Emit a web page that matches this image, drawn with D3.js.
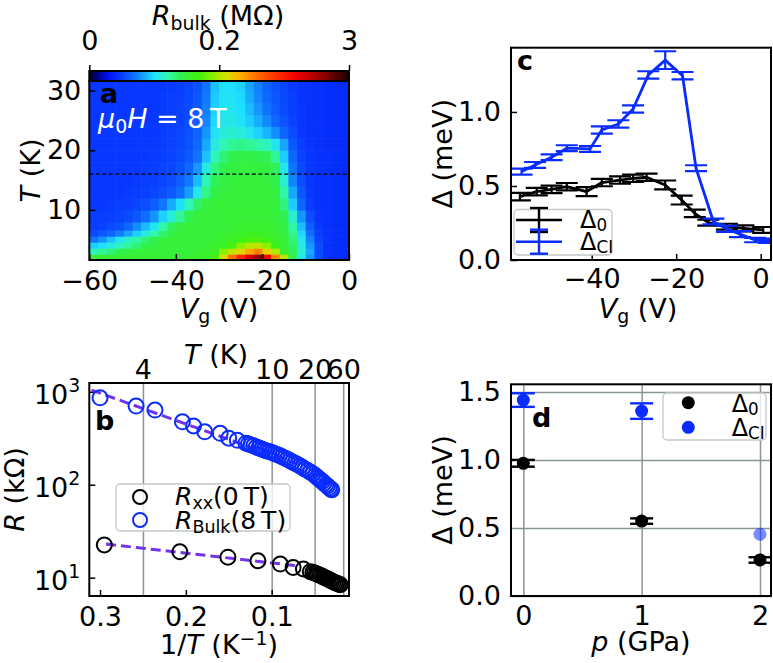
<!DOCTYPE html>
<html>
<head>
<meta charset="utf-8">
<script src="https://cdn.jsdelivr.net/npm/d3@7"></script>
<style>
body { margin: 0; background: #fff; }
svg { display: block; font-family: "DejaVu Sans", sans-serif; }
</style>
</head>
<body>
<svg id="fig" width="773" height="663"></svg>
<script>
// ---------- data ----------

// panel a : R_bulk map (kOhm), rows from low T to high T, columns = Vg cell centres
const aVg = [-59, -57, -55, -53, -51, -49, -47, -45, -43, -41, -39, -37, -35, -33, -31,
             -29, -27, -25, -23, -21, -19, -17, -15, -13, -11, -9, -7, -5, -3, -1]
const aTEdges = [1.6, 2.6, 3.6, 4.6, 5.6, 6.6, 8, 10, 12, 14, 16, 18, 20, 22, 24, 26, 28, 30, 31.6]
const aR = [
  [150,152,152,152,152, 152,152,152,152,152, 152,152,155,158,170, 350,1000,1500,2000,2400, 1800,900,250,140,105, 80,55,45,43,42],
  [118,125,132,140,146, 150,150,150,150,150, 150,150,152,155,160, 190,280,450,700,900, 450,200,155,138,112, 85,55,45,43,42],
  [95,100,108,116,124, 132,140,146,150,150, 150,150,150,152,155, 160,170,190,230,260, 190,165,150,135,108, 80,55,45,43,42],
  [70,80,92,104,114, 124,134,142,148,150, 150,150,150,150,152, 155,160,165,170,172, 165,158,150,132,105, 75,52,45,43,42],
  [55,60,66,74,84, 96,108,120,134,144, 150,150,150,150,150, 152,155,158,160,160, 158,155,148,128,98, 68,50,44,43,42],
  [50,52,55,58,66, 78,90,104,122,138, 146,150,150,150,150, 150,152,155,155,155, 155,152,145,122,90, 62,48,44,43,42],
  [50,50,51,52,55, 60,68,80,96,110, 125,140,148,150,150, 150,152,152,152,152, 152,150,140,112,80, 56,46,44,43,42],
  [48,48,49,50,51, 53,56,62,72,86, 100,118,135,146,150, 150,150,150,150,150, 150,148,130,95,65, 50,45,44,43,42],
  [48,48,48,48,49, 50,51,53,56,60, 68,82,105,128,144, 148,150,150,150,150, 150,146,122,85,60, 48,45,44,43,42],
  [48,48,48,48,48, 49,50,51,53,56, 62,72,90,118,138, 146,148,150,150,150, 148,142,112,75,56, 47,45,44,43,42],
  [48,48,48,48,48, 48,49,50,52,54, 58,65,80,108,130, 140,145,148,148,148, 145,138,105,70,54, 47,45,44,43,42],
  [48,48,48,48,48, 48,48,49,50,52, 55,60,70,92,118, 132,140,144,144,142, 138,125,95,65,52, 46,45,44,43,42],
  [48,48,48,48,48, 48,48,49,50,52, 54,58,66,85,108, 118,125,128,126,122, 115,104,84,60,50, 46,44,43,42,42],
  [48,48,48,48,48, 48,48,48,49,51, 53,57,64,80,102, 110,112,110,104,96, 88,78,65,55,48, 45,44,43,42,42],
  [48,48,48,48,48, 48,48,48,49,50, 52,56,62,76,98, 106,106,102,95,86, 76,66,58,52,47, 45,44,43,42,42],
  [48,48,48,48,48, 48,48,48,49,50, 52,55,60,74,96, 104,104,100,90,80, 70,62,55,50,47, 45,44,43,42,42],
  [48,48,48,48,48, 48,48,48,49,50, 51,54,60,72,94, 102,102,98,86,76, 66,60,54,50,46, 45,44,43,42,42],
  [48,48,48,48,48, 48,48,48,48,49, 50,53,58,70,92, 100,100,96,84,74, 64,58,53,49,46, 45,44,43,42,42]
]
const aXTicks = [-60, -40, -20, 0]
const aYTicks = [10, 20, 30]
const cbTicks = [0, 0.2, 3]   // MOhm
const aDashT = 16

// panel b : R vs 1/T
const bBulkInvT = [0.300, 0.258, 0.236, 0.204, 0.191, 0.178, 0.160, 0.150, 0.140,
                   0.130, 0.127, 0.124, 0.121, 0.118, 0.115, 0.112, 0.109, 0.106, 0.103, 0.100,
                   0.097, 0.094, 0.091, 0.088, 0.085, 0.082, 0.079, 0.076, 0.073, 0.070,
                   0.067, 0.064, 0.061, 0.058, 0.055, 0.052, 0.049, 0.047, 0.045, 0.043,
                   0.041, 0.039, 0.037, 0.035, 0.033, 0.031, 0.030]
const bBulkR = [861, 701, 635, 475, 428, 371, 357, 316, 300,
                280, 274, 268, 262, 254, 249, 242, 236, 231, 227, 222,
                217, 211, 206, 200, 194, 188, 182, 176, 170, 165,
                159, 153, 147, 142, 136, 131, 125, 120, 116, 112,
                108, 104, 100, 97, 93, 90, 88]
const bXXInvT = [0.295, 0.207, 0.151, 0.116, 0.090, 0.075, 0.063, 0.055,
                 0.052, 0.050, 0.048, 0.046, 0.044, 0.042, 0.040, 0.038, 0.036,
                 0.034, 0.032, 0.030, 0.028, 0.026, 0.024, 0.022, 0.020]
const bXXR = [22.5, 19.0, 16.6, 15.2, 14.0, 12.9, 12.4, 11.6,
              11.4, 11.2, 11.0, 10.8, 10.6, 10.4, 10.2, 10.0, 9.8,
              9.6, 9.4, 9.2, 9.0, 8.8, 8.7, 8.5, 8.4]
const bFitBulkInvT = [0.31, 0.067]
const bFitBulkR = [1043, 163]
const bFitXXInvT = [0.293, 0.073]
const bFitXXR = [23, 13.5]
const bXTicks = [0.3, 0.2, 0.1]
const bYTicks = [10, 100, 1000]
const bTTicks = [4, 10, 20, 60]

// panel c : gaps vs gate voltage
const cVg0 = [-57.0, -53.0, -49.5, -45.9, -41.2, -37.6, -33.3, -30.2, -27.0, -22.6, -18.7, -15.6, -12.4, -8.0, -4.1, 0.6]
const cD0 = [0.428, 0.462, 0.477, 0.495, 0.462, 0.523, 0.540, 0.552, 0.559, 0.507, 0.405, 0.315, 0.252, 0.225, 0.214, 0.203]
const cE0 = [0.025, 0.025, 0.025, 0.025, 0.03, 0.025, 0.025, 0.025, 0.025, 0.03, 0.03, 0.025, 0.02, 0.02, 0.02, 0.02]
const cVgCI = [-56.6, -53.4, -49.5, -45.9, -40.4, -37.6, -33.7, -30.2, -26.6, -22.6, -18.5, -15.3, -11.2, -8.0, -4.9, -1.3, 2.0]
const cDCI = [0.597, 0.642, 0.694, 0.755, 0.750, 0.878, 0.919, 1.020, 1.25, 1.35, 1.245, 0.62, 0.26, 0.21, 0.175, 0.135, 0.13]
const cECI = [0.02, 0.02, 0.02, 0.02, 0.02, 0.025, 0.025, 0.025, 0.025, 0.06, 0.025, 0.02, 0.02, 0.02, 0.02, 0.015, 0.015]
const cXTicks = [-40, -20, 0]
const cYTicks = [0, 0.5, 1.0]

// panel d : gaps vs pressure
const dP0 = [0, 1, 2]
const dD0 = [0.976, 0.551, 0.265]
const dE0 = [0.025, 0.02, 0.02]
const dPCI = [0, 1]
const dDCI = [1.441, 1.36]
const dECI = [0.05, 0.057]
const dPCIfaint = [2]
const dDCIfaint = [0.454]
const dXTicks = [0, 1, 2]
const dYTicks = [0, 0.5, 1.0, 1.5]

// ---------- style ----------
const FS = 27
const LFS = 24
const BLUE = '#0a2cff'
const GRID = '#8a9696'
const FIT = '#7433ea'
const cmapStops = [
  [0.00, '#000018'], [0.03, '#00007c'], [0.07, '#0010f0'], [0.12, '#0838ff'],
  [0.18, '#1078ff'], [0.25, '#20e0ff'], [0.30, '#30f8b0'], [0.35, '#30f050'],
  [0.42, '#40f010'], [0.48, '#90f000'], [0.53, '#d8e000'], [0.58, '#ffb000'],
  [0.64, '#ff7000'], [0.72, '#ff3000'], [0.80, '#f00000'], [0.90, '#900000'], [1.00, '#180000']
]

const svg = d3.select('#fig')
const defs = svg.append('defs')

// text with italic / sub / sup pieces, roughly like mathtext
function rich(sel, x, y, parts, o = {}) {
  const size = o.size || FS
  const t = sel.append('text')
    .attr('x', x).attr('y', y)
    .attr('font-size', size)
    .attr('text-anchor', o.anchor || 'start')
    .attr('fill', o.fill || '#000')
  if (o.weight) t.attr('font-weight', o.weight)
  if (o.rotate) t.attr('transform', `rotate(${o.rotate},${x},${y})`)
  const subK = o.subK || 0.2, supK = o.supK || 0.42
  let cur = 0
  parts.forEach(p => {
    if (typeof p === 'string') p = { t: p }
    const shift = p.sub ? subK * size : p.sup ? -supK * size : 0
    const s = t.append('tspan').text(p.t).attr('dy', shift - cur)
    cur = shift
    if (p.sub || p.sup) s.attr('font-size', size * 0.7)
    if (p.i) s.attr('font-style', 'italic')
  })
  return t
}

function styleAxis(g, col) {
  g.attr('font-family', null).attr('font-size', null)
  g.select('.domain').remove()
  g.selectAll('.tick line').attr('stroke', col || '#000').attr('stroke-width', 1.5)
  g.selectAll('.tick text').attr('font-size', FS).attr('fill', '#000')
}

function frame(x0, y0, x1, y1) {
  svg.append('rect').attr('x', x0).attr('y', y0).attr('width', x1 - x0).attr('height', y1 - y0)
    .attr('fill', 'none').attr('stroke', '#000').attr('stroke-width', 2)
}

// ================= panel a =================
const xA = d3.scaleLinear().domain([-60, 0]).range([89.3, 349])
const yA = d3.scaleLinear().domain([1.6, 31.6]).range([260, 81])
const norm = d3.scaleLinear().domain([0, 0.2, 3]).range([0, 0.5, 1]).clamp(true)
const cmap = d3.scaleLinear().domain(cmapStops.map(d => d[0])).range(cmapStops.map(d => d[1]))
  .interpolate(d3.interpolateRgb)
const colorOf = kohm => cmap(norm(kohm / 1000))

const cells = []
aR.forEach((row, r) => row.forEach((v, c) => cells.push({ r, c, v })))
svg.append('g').selectAll('rect').data(cells).join('rect')
  .attr('x', d => xA(aVg[d.c] - 1))
  .attr('width', d => xA(aVg[d.c] + 1) - xA(aVg[d.c] - 1) + 0.6)
  .attr('y', d => yA(aTEdges[d.r + 1]))
  .attr('height', d => yA(aTEdges[d.r]) - yA(aTEdges[d.r + 1]) + 0.6)
  .attr('fill', d => colorOf(d.v))

svg.append('line')
  .attr('x1', xA(-60)).attr('x2', xA(0)).attr('y1', yA(aDashT)).attr('y2', yA(aDashT))
  .attr('stroke', '#000').attr('stroke-width', 1.2).attr('stroke-dasharray', '4,2.5')

svg.append('g').attr('transform', 'translate(0,260)')
  .call(d3.axisBottom(xA).tickValues(aXTicks).tickSize(-6).tickSizeOuter(0).tickPadding(11))
  .call(g => styleAxis(g))
svg.append('g').attr('transform', 'translate(89.3,0)')
  .call(d3.axisLeft(yA).tickValues(aYTicks).tickSize(-6).tickSizeOuter(0).tickPadding(8))
  .call(g => styleAxis(g))
frame(89.3, 81, 349, 260)

// colorbar
const grad = defs.append('linearGradient').attr('id', 'cbgrad')
grad.selectAll('stop').data(cmapStops).join('stop')
  .attr('offset', d => d[0]).attr('stop-color', d => d[1])
svg.append('rect').attr('x', 89.3).attr('y', 71).attr('width', 349 - 89.3).attr('height', 10)
  .attr('fill', 'url(#cbgrad)')
const cbX = d3.scaleLinear().domain([0, 0.2, 3]).range([89.3, 219.2, 349])
svg.append('g').attr('transform', 'translate(0,71)')
  .call(d3.axisTop(cbX).tickValues(cbTicks).tickFormat(d => String(d)).tickSize(6).tickSizeOuter(0).tickPadding(15))
  .call(g => styleAxis(g))
frame(89.3, 71, 349, 81)
rich(svg, 218, 25, [{ t: 'R', i: true }, { t: 'bulk', sub: true }, ' (MΩ)'], { anchor: 'middle' })

svg.append('text').attr('x', 100).attr('y', 103).attr('font-size', FS).attr('font-weight', 'bold').text('a')
rich(svg, 98, 128, [{ t: 'μ', i: true }, { t: '0', sub: true }, { t: 'H', i: true }, ' = 8\u2009T'], { fill: '#fff' })
rich(svg, 40, 170.5, [{ t: 'T', i: true }, ' (K)'], { anchor: 'middle', rotate: -90 })
rich(svg, 219, 318, [{ t: 'V', i: true }, { t: 'g', sub: true }, ' (V)'], { anchor: 'middle' })

// ================= panel b =================
const xB = d3.scaleLinear().domain([0.3125, 0.0099]).range([89.3, 349])
const yB = d3.scaleLog().domain([6.35, 1242]).range([596, 383])

svg.append('g').attr('transform', 'translate(0,383)')
  .call(d3.axisTop(xB).tickValues(bTTicks.map(t => 1 / t)).tickFormat((d, i) => bTTicks[i])
    .tickSize(-(596 - 383)).tickSizeOuter(0).tickPadding(4))
  .call(g => styleAxis(g, GRID))
svg.append('g').attr('transform', 'translate(0,596)')
  .call(d3.axisBottom(xB).tickValues(bXTicks).tickFormat(d3.format('.1f')).tickSize(-6).tickSizeOuter(0).tickPadding(11))
  .call(g => styleAxis(g))
const bLeft = svg.append('g').attr('transform', 'translate(89.3,0)')
  .call(d3.axisLeft(yB).tickValues(bYTicks).tickFormat('').tickSize(-6).tickSizeOuter(0))
  .call(g => styleAxis(g))
bLeft.selectAll('.tick').each(function (d) {
  d3.select(this).select('text').remove()
  rich(d3.select(this), -9, 11.5, ['10', { t: String(Math.round(Math.log10(d))), sup: true }], { anchor: 'end' })
})

const lineB = d3.line().x(d => xB(d[0])).y(d => yB(d[1]))
svg.append('path').attr('d', lineB(bFitBulkInvT.map((u, i) => [u, bFitBulkR[i]])))
  .attr('fill', 'none').attr('stroke', FIT).attr('stroke-width', 3).attr('stroke-dasharray', '10,5')
svg.append('path').attr('d', lineB(bFitXXInvT.map((u, i) => [u, bFitXXR[i]])))
  .attr('fill', 'none').attr('stroke', FIT).attr('stroke-width', 3).attr('stroke-dasharray', '10,5')

svg.append('g').selectAll('circle').data(bXXInvT.map((u, i) => [u, bXXR[i]])).join('circle')
  .attr('cx', d => xB(d[0])).attr('cy', d => yB(d[1])).attr('r', 7.5)
  .attr('fill', 'none').attr('stroke', '#000').attr('stroke-width', 2)
svg.append('g').selectAll('circle').data(bBulkInvT.map((u, i) => [u, bBulkR[i]])).join('circle')
  .attr('cx', d => xB(d[0])).attr('cy', d => yB(d[1])).attr('r', 7.5)
  .attr('fill', 'none').attr('stroke', BLUE).attr('stroke-width', 2)
frame(89.3, 383, 349, 596)

svg.append('text').attr('x', 95).attr('y', 430).attr('font-size', FS).attr('font-weight', 'bold').text('b')
// legend b
svg.append('rect').attr('x', 116).attr('y', 484).attr('width', 174).attr('height', 47).attr('rx', 4)
  .attr('fill', '#fff').attr('fill-opacity', 0.8).attr('stroke', '#c4c8c8').attr('stroke-width', 1.3)
svg.append('circle').attr('cx', 140).attr('cy', 497).attr('r', 7).attr('fill', 'none').attr('stroke', '#000').attr('stroke-width', 2)
svg.append('circle').attr('cx', 140).attr('cy', 520).attr('r', 7).attr('fill', 'none').attr('stroke', BLUE).attr('stroke-width', 2)
rich(svg, 175, 505, [{ t: 'R', i: true }, { t: 'xx', sub: true }, '(0\u2009T)'], { size: 25, subK: 0.14 })
rich(svg, 175, 529, [{ t: 'R', i: true }, { t: 'Bulk', sub: true }, '(8\u2009T)'], { size: 25, subK: 0.14 })

rich(svg, 216, 364, [{ t: 'T', i: true }, ' (K)'], { anchor: 'middle' })
rich(svg, 24, 489.5, [{ t: 'R', i: true }, ' (kΩ)'], { anchor: 'middle', rotate: -90 })
rich(svg, 219, 654, ['1/', { t: 'T', i: true }, ' (K', { t: '−1', sup: true }, ')'], { anchor: 'middle', supK: 0.34 })

// ================= panel c =================
const xC = d3.scaleLinear().domain([-59.1, 2.44]).range([511, 771])
const yC = d3.scaleLinear().domain([0, 1.434]).range([260, 47.7])
defs.append('clipPath').attr('id', 'clipC').append('rect')
  .attr('x', 511).attr('y', 47.7).attr('width', 260).attr('height', 260 - 47.7)

svg.append('g').attr('transform', 'translate(0,260)')
  .call(d3.axisBottom(xC).tickValues(cXTicks).tickSize(-6).tickSizeOuter(0).tickPadding(9))
  .call(g => styleAxis(g))
svg.append('g').attr('transform', 'translate(511,0)')
  .call(d3.axisLeft(yC).tickValues(cYTicks).tickFormat(d3.format('.1f')).tickSize(-6).tickSizeOuter(0).tickPadding(10))
  .call(g => styleAxis(g))

const gC = svg.append('g').attr('clip-path', 'url(#clipC)')
function errSeries(g, xs, ys, es, x, y, col, cap) {
  const pts = xs.map((v, i) => [v, ys[i], es[i]])
  g.append('path').attr('d', d3.line().x(d => x(d[0])).y(d => y(d[1]))(pts))
    .attr('fill', 'none').attr('stroke', col).attr('stroke-width', 2.8).attr('stroke-linejoin', 'round')
  const eb = g.append('g').attr('stroke', col).attr('stroke-width', 2.2)
  pts.forEach(d => {
    const cx = x(d[0]), y0 = y(d[1] - d[2]), y1 = y(d[1] + d[2])
    eb.append('line').attr('x1', cx).attr('x2', cx).attr('y1', y0).attr('y2', y1)
    eb.append('line').attr('x1', cx - cap).attr('x2', cx + cap).attr('y1', y0).attr('y2', y0)
    eb.append('line').attr('x1', cx - cap).attr('x2', cx + cap).attr('y1', y1).attr('y2', y1)
  })
}
errSeries(gC, cVg0, cD0, cE0, xC, yC, '#000', 11)
errSeries(gC, cVgCI, cDCI, cECI, xC, yC, BLUE, 11)
frame(511, 47.7, 771, 260)

svg.append('text').attr('x', 517).attr('y', 70).attr('font-size', FS).attr('font-weight', 'bold').text('c')
// legend c
svg.append('rect').attr('x', 514).attr('y', 209.5).attr('width', 98).attr('height', 45.5).attr('rx', 4)
  .attr('fill', '#fff').attr('fill-opacity', 0.8).attr('stroke', '#c4c8c8').attr('stroke-width', 1.3)
;[['#000', 220], [BLUE, 241.7]].forEach(([col, yy]) => {
  const g = svg.append('g').attr('stroke', col).attr('stroke-width', 2.4)
  g.append('line').attr('x1', 516).attr('x2', 562).attr('y1', yy).attr('y2', yy)
  g.append('line').attr('x1', 539).attr('x2', 539).attr('y1', yy - 12).attr('y2', yy + 12)
  g.append('line').attr('x1', 530).attr('x2', 548).attr('y1', yy - 12).attr('y2', yy - 12)
  g.append('line').attr('x1', 530).attr('x2', 548).attr('y1', yy + 12).attr('y2', yy + 12)
})
rich(svg, 580, 228, ['Δ', { t: '0', sub: true }], { size: LFS, subK: 0.14 })
rich(svg, 580, 250, ['Δ', { t: 'CI', sub: true }], { size: LFS, subK: 0.14 })

rich(svg, 452, 153.8, ['Δ (meV)'], { anchor: 'middle', rotate: -90 })
rich(svg, 638, 318, [{ t: 'V', i: true }, { t: 'g', sub: true }, ' (V)'], { anchor: 'middle' })

// ================= panel d =================
const xD = d3.scaleLinear().domain([-0.104, 2.093]).range([511, 771])
const yD = d3.scaleLinear().domain([0, 1.557]).range([596, 384.3])

svg.append('g').attr('transform', 'translate(0,596)')
  .call(d3.axisBottom(xD).tickValues(dXTicks).tickFormat(d3.format('d')).tickSize(-(596 - 384.3)).tickSizeOuter(0).tickPadding(10))
  .call(g => styleAxis(g, GRID))
svg.append('g').attr('transform', 'translate(511,0)')
  .call(d3.axisLeft(yD).tickValues(dYTicks).tickFormat(d3.format('.1f')).tickSize(-(771 - 511)).tickSizeOuter(0).tickPadding(10))
  .call(g => styleAxis(g, GRID))

function dotErr(ps, ds, es, col) {
  const g = svg.append('g')
  ps.forEach((p, i) => {
    const cx = xD(p)
    if (es) {
      const y0 = yD(ds[i] - es[i]), y1 = yD(ds[i] + es[i])
      const eg = g.append('g').attr('stroke', col).attr('stroke-width', 2.4)
      eg.append('line').attr('x1', cx).attr('x2', cx).attr('y1', y0).attr('y2', y1)
      eg.append('line').attr('x1', cx - 11.5).attr('x2', cx + 11.5).attr('y1', y0).attr('y2', y0)
      eg.append('line').attr('x1', cx - 11.5).attr('x2', cx + 11.5).attr('y1', y1).attr('y2', y1)
    }
    g.append('circle').attr('cx', cx).attr('cy', yD(ds[i])).attr('r', 6.5).attr('fill', col)
  })
  return g
}
dotErr(dP0, dD0, dE0, '#000')
dotErr(dPCI, dDCI, dECI, BLUE)
dotErr(dPCIfaint, dDCIfaint, null, BLUE).attr('opacity', 0.55)
frame(511, 384.3, 771, 596)

svg.append('text').attr('x', 532).attr('y', 427).attr('font-size', FS).attr('font-weight', 'bold').text('d')
// legend d
svg.append('rect').attr('x', 663).attr('y', 393).attr('width', 103).attr('height', 47).attr('rx', 4)
  .attr('fill', '#fff').attr('fill-opacity', 0.8).attr('stroke', '#c4c8c8').attr('stroke-width', 1.3)
svg.append('circle').attr('cx', 688.3).attr('cy', 402.7).attr('r', 6.5).attr('fill', '#000')
svg.append('circle').attr('cx', 688.3).attr('cy', 427.3).attr('r', 6.5).attr('fill', BLUE)
rich(svg, 731.7, 412, ['Δ', { t: '0', sub: true }], { size: LFS, subK: 0.14 })
rich(svg, 731.7, 436, ['Δ', { t: 'CI', sub: true }], { size: LFS, subK: 0.14 })

rich(svg, 452, 490, ['Δ (meV)'], { anchor: 'middle', rotate: -90 })
rich(svg, 641, 651, [{ t: 'p', i: true }, ' (GPa)'], { anchor: 'middle' })
</script>
</body>
</html>
